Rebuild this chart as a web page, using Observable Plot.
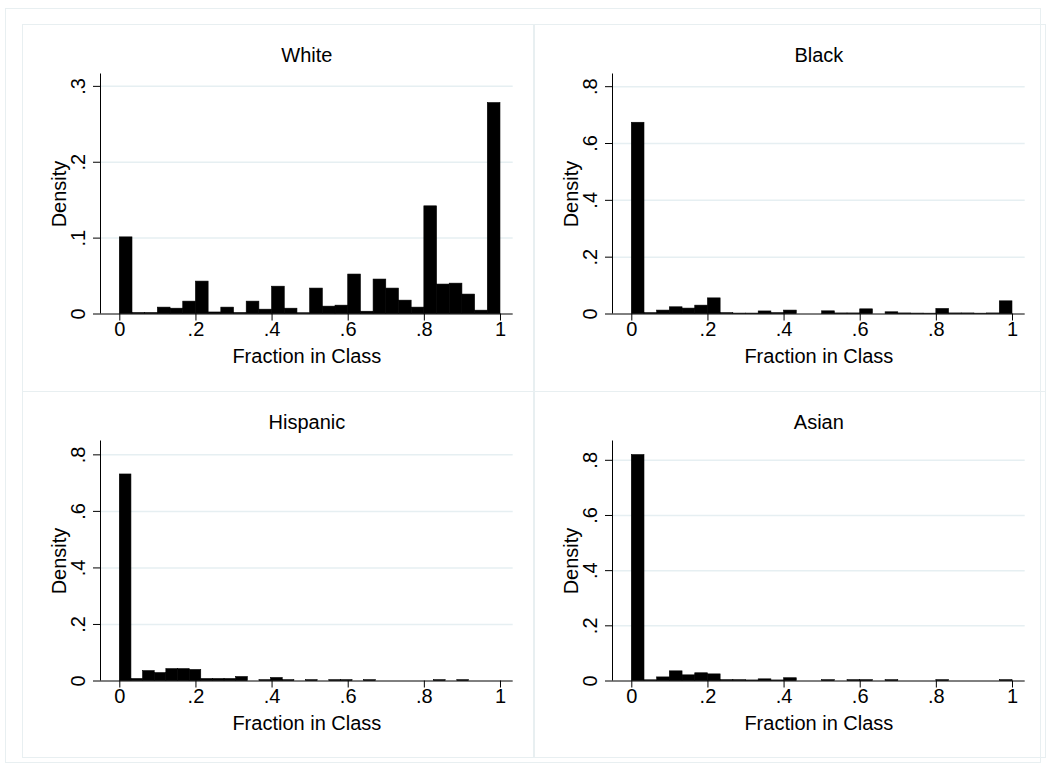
<!DOCTYPE html>
<html><head><meta charset="utf-8">
<script src="https://cdn.jsdelivr.net/npm/d3@7"></script>
<script src="https://cdn.jsdelivr.net/npm/@observablehq/plot@0.6"></script>
<style>
body{margin:0;background:#fff;}
#root{position:relative;width:1048px;height:772px;overflow:hidden;font-family:"Liberation Sans",Arial,sans-serif;}
.frame{position:absolute;border:1px solid #e8eff1;box-sizing:border-box;}
.panel{position:absolute;}
</style></head><body>
<div id="root"></div>
<script>
// ---- data (fraction of schools per bin) ----
const groupNames = ["White", "Black", "Hispanic", "Asian"];
const binCount = 30;
const fullBinWidth = 1 / 30;        // bins span 0..1
const hispanicBinWidth = 0.03057;   // Hispanic bins span 0..~0.917
const xTicks = [0, 0.2, 0.4, 0.6, 0.8, 1];
const whiteYTicks = [0, 0.1, 0.2, 0.3];
const otherYTicks = [0, 0.2, 0.4, 0.6, 0.8];
const whiteYMax = 0.3163, blackYMax = 0.8446, hispanicYMax = 0.849, asianYMax = 0.87;
const xDomain = [-0.0507, 1.0334];

const whiteDensity = [0.101, 0.0013, 0.0013, 0.0084, 0.007, 0.0163, 0.0427, 0.002, 0.0084, 0.0013,
  0.0163, 0.0057, 0.036, 0.007, 0.001, 0.0335, 0.0097, 0.011, 0.052, 0.003,
  0.0454, 0.0335, 0.0176, 0.0084, 0.1419, 0.0388, 0.040, 0.0256, 0.0044, 0.278];
const blackDensity = [0.673, 0.003, 0.012, 0.0236, 0.019, 0.0294, 0.055, 0.003, 0.0015, 0.0015,
  0.009, 0.003, 0.012, 0, 0, 0.0094, 0.002, 0.002, 0.0164, 0,
  0.006, 0.002, 0.0015, 0.0012, 0.0176, 0.002, 0.002, 0.0012, 0.002, 0.0446];
const hispanicDensity = [0.7306, 0.007, 0.035, 0.028, 0.042, 0.042, 0.039, 0.007, 0.007, 0.007,
  0.014, 0, 0.003, 0.0106, 0.003, 0, 0.003, 0, 0.003, 0.003,
  0, 0.003, 0, 0, 0, 0, 0, 0.003, 0, 0.003];
const asianDensity = [0.819, 0.0025, 0.013, 0.035, 0.0205, 0.028, 0.024, 0.003, 0.003, 0.002,
  0.006, 0.002, 0.01, 0, 0, 0.003, 0, 0.003, 0.003, 0,
  0.003, 0, 0, 0, 0.003, 0, 0, 0, 0, 0.003];

const fmt = d => d === 0 ? "0" : d === 1 ? "1" : String(+d.toFixed(2)).replace(/^0/, "");

function panel(title, values, binWidth, yTicks, yMax) {
  const bars = values.map((v, i) => ({x1: i * binWidth, x2: (i + 1) * binWidth, y: v})).filter(d => d.y > 0);
  return Plot.plot({
    width: 511, height: 367,
    marginLeft: 78, marginRight: 20.3, marginTop: 49.5, marginBottom: 77.5,
    x: {domain: xDomain},
    y: {domain: [0, yMax]},
    style: {fontFamily: "'Liberation Sans', Arial, sans-serif", fontSize: "20px", color: "#000", background: "transparent", overflow: "visible"},
    marks: [
      Plot.ruleY(yTicks.filter(t => t > 0), {stroke: "#e6eff2", strokeWidth: 1.5}),
      Plot.rectY(bars, {x1: "x1", x2: "x2", y: "y", fill: "#000", stroke: "#000", strokeWidth: 0.6, inset: 0}),
      Plot.ruleX([xDomain[0]], {stroke: "#000", strokeWidth: 1}),
      Plot.ruleY([0], {stroke: "#000", strokeWidth: 1}),
      Plot.axisX({ticks: xTicks, tickFormat: fmt, tickSize: 7, tickPadding: 1, label: null, stroke: "#000"}),
      Plot.axisY({ticks: yTicks, tickFormat: fmt, tickSize: 7, tickRotate: -90, tickPadding: 9, label: null, stroke: "#000"}),
      Plot.text([title], {frameAnchor: "top", dy: -18.5, lineAnchor: "middle", textAnchor: "middle", fill: "#000"}),
      Plot.text(["Density"], {frameAnchor: "left", dx: -41, rotate: -90, lineAnchor: "middle", textAnchor: "middle", fill: "#000"}),
      Plot.text(["Fraction in Class"], {frameAnchor: "bottom", dy: 43, lineAnchor: "middle", textAnchor: "middle", fill: "#000"})
    ]
  });
}

const root = document.getElementById("root");
function addFrame(l, t, w, h) {
  const f = document.createElement("div");
  f.className = "frame";
  Object.assign(f.style, {left: l + "px", top: t + "px", width: w + "px", height: h + "px"});
  root.appendChild(f);
}
addFrame(5, 8, 1036, 755);
const specs = [
  [whiteDensity, fullBinWidth, whiteYTicks, whiteYMax],
  [blackDensity, fullBinWidth, otherYTicks, blackYMax],
  [hispanicDensity, hispanicBinWidth, otherYTicks, hispanicYMax],
  [asianDensity, fullBinWidth, otherYTicks, asianYMax]
];
groupNames.forEach((name, i) => {
  const col = i % 2, row = Math.floor(i / 2);
  const left = 22 + col * 511.7, top = 24 + row * 366.7;
  addFrame(left, top, 512, 367.5);
  const [vals, bw, yt, ym] = specs[i];
  const chart = panel(name, vals, bw, yt, ym);
  const wrap = document.createElement("div");
  wrap.className = "panel";
  Object.assign(wrap.style, {left: left + "px", top: top + "px"});
  wrap.appendChild(chart);
  root.appendChild(wrap);
});
</script>
</body></html>
